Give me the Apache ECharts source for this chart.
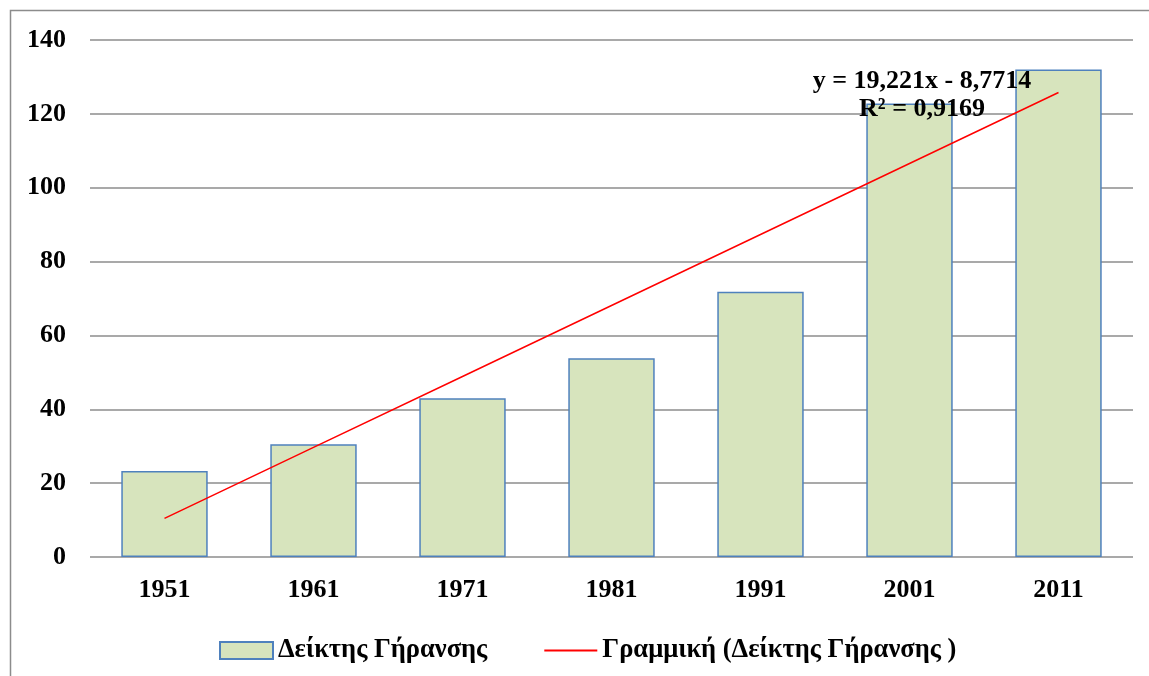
<!DOCTYPE html>
<html>
<head>
<meta charset="utf-8">
<script src="https://cdn.jsdelivr.net/npm/echarts@6/dist/echarts.min.js"></script>
<style>html,body{margin:0;padding:0;background:#fff}#c{width:1149px;height:676px}</style>
</head>
<body>
<div id="c"></div>
<script>
var categories = ['1951', '1961', '1971', '1981', '1991', '2001', '2011'];
var ageingIndex = [23.3, 30.5, 43.0, 53.8, 71.8, 122.8, 132.0];
var trendValues = [10.45, 29.67, 48.89, 68.11, 87.33, 106.55, 125.78];
var yTicks = { min: 0, max: 140, interval: 20 };
var barName = 'Δείκτης Γήρανσης';
var trendName = 'Γραμμική (Δείκτης Γήρανσης )';
var equationLines = ['y = 19,221x - 8,7714', 'R² = 0,9169'];

var FONT = '"Liberation Serif", "Times New Roman", serif';
var chart = echarts.init(document.getElementById('c'), null, { renderer: 'canvas' });
chart.setOption({
  animation: false,
  backgroundColor: '#ffffff',
  textStyle: { fontFamily: FONT },
  grid: { left: 90, right: 16, top: 40, bottom: 119 },
  legend: {
    left: 214, top: 632,
    itemWidth: 53, itemHeight: 17, itemGap: 56,
    textStyle: { fontFamily: FONT, fontWeight: 'bold', fontSize: 26.5, color: '#000' },
    data: [
      { name: barName, icon: 'rect' },
      { name: trendName, itemStyle: { opacity: 0 } }
    ]
  },
  xAxis: {
    type: 'category',
    data: categories,
    axisLine: { show: false },
    axisTick: { show: false },
    axisLabel: { fontFamily: FONT, fontWeight: 'bold', fontSize: 26, color: '#000', margin: 20 }
  },
  yAxis: {
    type: 'value',
    min: yTicks.min, max: yTicks.max, interval: yTicks.interval,
    axisLine: { show: false },
    axisTick: { show: false },
    splitLine: { lineStyle: { color: '#8c8c8c', width: 1.5 } },
    axisLabel: { fontFamily: FONT, fontWeight: 'bold', fontSize: 26, color: '#000', margin: 24 }
  },
  series: [
    {
      name: barName,
      type: 'bar',
      data: ageingIndex,
      barWidth: '58%',
      itemStyle: { color: '#d7e4bd', borderColor: '#4f81bd', borderWidth: 1.5 }
    },
    {
      name: trendName,
      type: 'line',
      data: trendValues,
      symbol: 'none',
      lineStyle: { color: '#ff0000', width: 1.5 },
      itemStyle: { color: '#ff0000' },
      z: 5
    }
  ],
  graphic: [
    { type: 'rect', silent: true, shape: { x: 10.5, y: 10.5, width: 1200, height: 700 },
      style: { fill: 'none', stroke: '#8c8c8c', lineWidth: 1.5 }, z: 0 },
    { type: 'text', x: 922, y: 81, z: 100,
      style: { text: equationLines[0], font: 'bold 26px ' + FONT, fill: '#000', align: 'center', verticalAlign: 'middle' } },
    { type: 'text', x: 922, y: 109, z: 100,
      style: { text: equationLines[1], font: 'bold 26px ' + FONT, fill: '#000', align: 'center', verticalAlign: 'middle' } }
  ]
});
</script>
</body>
</html>
